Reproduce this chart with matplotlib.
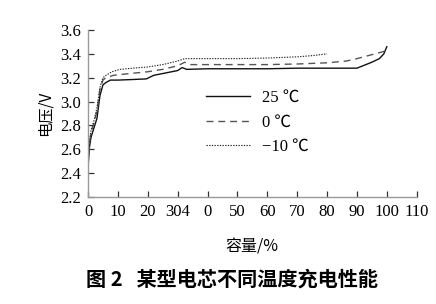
import matplotlib
matplotlib.use("Agg")
import matplotlib.pyplot as plt

# Data (capacity %, voltage V)
cap_25 = [0, 0.5, 1, 2, 3, 4, 5, 6, 7.5, 10, 15, 19.5, 22, 26, 30, 31.5, 33, 40, 50, 60, 70, 80, 90, 92, 95, 97.5, 99, 100]
v_25 = [2.45, 2.62, 2.70, 2.78, 2.86, 3.05, 3.14, 3.16, 3.18, 3.18, 3.185, 3.19, 3.22, 3.24, 3.26, 3.285, 3.27, 3.275, 3.275, 3.275, 3.28, 3.28, 3.28, 3.30, 3.33, 3.36, 3.40, 3.46]

cap_0 = [0, 0.5, 1, 2, 3, 4, 5, 6, 8.5, 12, 20, 25, 30, 32.4, 34, 40, 50, 60, 70, 80, 86.5, 90, 93, 96, 99, 100]
v_0 = [2.47, 2.65, 2.74, 2.82, 2.92, 3.10, 3.18, 3.20, 3.22, 3.23, 3.25, 3.27, 3.30, 3.33, 3.31, 3.31, 3.31, 3.31, 3.315, 3.325, 3.34, 3.36, 3.38, 3.40, 3.42, 3.44]

cap_m10 = [0, 0.5, 1, 2, 3, 4, 5, 6, 8, 10.7, 15, 20, 25, 30, 32.4, 35, 40, 50, 60, 70, 75, 80]
v_m10 = [2.48, 2.66, 2.76, 2.84, 2.95, 3.12, 3.20, 3.22, 3.25, 3.27, 3.28, 3.29, 3.31, 3.34, 3.36, 3.36, 3.36, 3.36, 3.365, 3.375, 3.385, 3.40]

labels = ["25 \u2103", "0 \u2103", "\u221210 \u2103"]
x_ticks = [0, 10, 20, 30, 40, 50, 60, 70, 80, 90, 100, 110]
x_tick_labels = ["0", "10", "20", "304", "0", "50", "60", "70", "80", "90", "100", "110"]
y_ticks = [2.2, 2.4, 2.6, 2.8, 3.0, 3.2, 3.4, 3.6]
y_tick_labels = ["2.2", "2.4", "2.6", "2.8", "3.0", "3.2", "3.4", "3.6"]

serif = ["Liberation Serif", "Noto Sans CJK SC", "DejaVu Sans"]
cjk = ["Noto Sans CJK SC", "Liberation Serif", "DejaVu Sans"]

fig = plt.figure(figsize=(4.36, 3.04), dpi=100)
ax = fig.add_axes([88 / 436, 1 - 197 / 304, (416.7 - 88) / 436, (197 - 30) / 304])

ax.plot(cap_25, v_25, color="#111111", lw=1.0, ls="-", label=labels[0])
ax.plot(cap_0, v_0, color="#555555", lw=1.0, ls=(0, (5, 3.5)), label=labels[1])
ax.plot(cap_m10, v_m10, color="#222222", lw=0.8, ls=(0, (1.2, 1.2)), label=labels[2])

ax.set_xlim(0, 110)
ax.set_ylim(2.2, 3.6)
ax.set_xticks(x_ticks)
ax.set_xticklabels(x_tick_labels, fontfamily=serif, fontsize=12)
ax.set_yticks(y_ticks)
ax.set_yticklabels(y_tick_labels, fontfamily=serif, fontsize=12)
ax.tick_params(direction="in", length=4, width=0.9, color="#333333", pad=5)

for s in ["top", "right"]:
    ax.spines[s].set_visible(False)
for s in ["left", "bottom"]:
    ax.spines[s].set_color("#999999")
    ax.spines[s].set_linewidth(1.0)

ax.set_ylabel("电压/V", fontfamily=cjk, fontsize=11, labelpad=5)
ax.set_xlabel("容量/%", fontfamily=cjk, fontsize=11.5, labelpad=13)

leg = ax.legend(loc="upper left", bbox_to_anchor=(0.36, 0.64), frameon=False,
                handlelength=2.6, handletextpad=0.75, labelspacing=0.5,
                prop={"family": serif, "size": 12}, borderaxespad=0, borderpad=0)

fig.text(232 / 436, 1 - 279 / 304, "图 2   某型电芯不同温度充电性能", fontfamily=cjk,
         fontsize=14.5, fontweight="bold", ha="center", va="center")

fig.savefig("out.png", dpi=100)
